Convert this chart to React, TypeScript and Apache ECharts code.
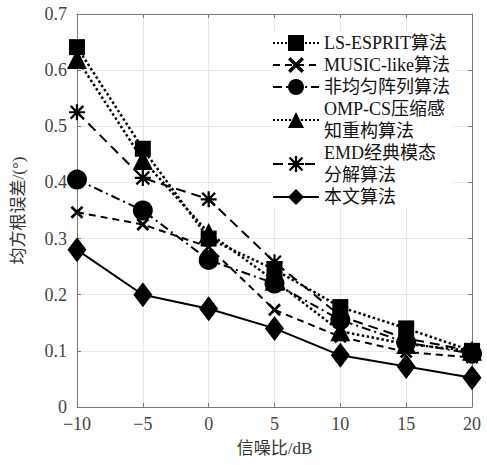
import React, { useEffect, useRef } from "react";
import * as echarts from "echarts";

const snr = [-10, -5, 0, 5, 10, 15, 20];
const seriesNames = [
  "LS-ESPRIT算法",
  "MUSIC-like算法",
  "非均匀阵列算法",
  "OMP-CS压缩感知重构算法",
  "EMD经典模态分解算法",
  "本文算法",
];
const legendLabels = [
  "LS-ESPRIT算法",
  "MUSIC-like算法",
  "非均匀阵列算法",
  "OMP-CS压缩感\n知重构算法",
  "EMD经典模态\n分解算法",
  "本文算法",
];
const lsEsprit = [0.641, 0.46, 0.3, 0.245, 0.178, 0.14, 0.1];
const musicLike = [0.347, 0.325, 0.285, 0.173, 0.125, 0.098, 0.088];
const nonUniform = [0.405, 0.35, 0.262, 0.22, 0.155, 0.115, 0.095];
const ompCs = [0.62, 0.44, 0.31, 0.225, 0.135, 0.112, 0.1];
const emd = [0.525, 0.408, 0.37, 0.258, 0.162, 0.122, 0.1];
const ours = [0.28, 0.2, 0.175, 0.14, 0.092, 0.072, 0.052];
const yTicks = [0, 0.1, 0.2, 0.3, 0.4, 0.5, 0.6, 0.7];

const X_PATH =
  "path://M0,1.5 L1.5,0 L5,3.5 L8.5,0 L10,1.5 L6.5,5 L10,8.5 L8.5,10 L5,6.5 L1.5,10 L0,8.5 L3.5,5 Z";
const STAR_PATH =
  "path://M4.3,0 L5.7,0 L5.7,10 L4.3,10 Z M0,4.3 L10,4.3 L10,5.7 L0,5.7 Z M1.5,0.5 L9.5,8.5 L8.5,9.5 L0.5,1.5 Z M9.5,1.5 L1.5,9.5 L0.5,8.5 L8.5,0.5 Z";

const SERIF = "'Liberation Serif', 'Noto Sans CJK SC', serif";

export default function App() {
  const ref = useRef<HTMLDivElement>(null);
  useEffect(() => {
    if (!ref.current) return;
    const chart = echarts.init(ref.current, undefined, { renderer: "svg" });
    const values = [lsEsprit, musicLike, nonUniform, ompCs, emd, ours];
    const symbols = ["rect", X_PATH, "circle", "triangle", STAR_PATH, "diamond"];
    const symbolSizes: any[] = [16, 13, 20, 20, 16, [19, 25]];
    const lineTypes: any[] = ["dotted", [7, 5], [9, 4, 2, 4], "dotted", [10, 6], "solid"];
    const lineWidths = [2.5, 2, 2, 2.5, 2, 2];
    const series = values.map((v, i) => ({
      name: seriesNames[i],
      type: "line",
      data: snr.map((x, j) => [x, v[j]]),
      symbol: symbols[i],
      symbolSize: symbolSizes[i],
      itemStyle: { color: "#000" },
      lineStyle: { color: "#000", width: lineWidths[i], type: lineTypes[i] },
    }));
    const labelMap: Record<string, string> = {};
    seriesNames.forEach((n, i) => (labelMap[n] = legendLabels[i]));
    chart.setOption({
      animation: false,
      backgroundColor: "#fff",
      grid: { left: 77, right: 15, top: 14, bottom: 58 },
      legend: {
        orient: "vertical",
        left: 272,
        top: 32,
        itemWidth: 46,
        itemHeight: 20,
        itemGap: 0,
        backgroundColor: "#fff",
        padding: [0, 4, 0, 0],
        data: seriesNames,
        formatter: (n: string) => labelMap[n],
        textStyle: { fontFamily: SERIF, fontSize: 18, color: "#111", lineHeight: 22 },
      },
      xAxis: [
        {
          type: "value",
          min: -10,
          max: 20,
          interval: 5,
          name: "信噪比/dB",
          nameLocation: "middle",
          nameGap: 33,
          nameTextStyle: { fontFamily: SERIF, fontSize: 17, color: "#333" },
          axisLine: { onZero: false, lineStyle: { color: "#777" } },
          axisTick: { inside: true, length: 4, lineStyle: { color: "#777" } },
          axisLabel: {
            fontFamily: SERIF,
            fontSize: 18,
            color: "#444",
            margin: 8,
            formatter: (v: number) => String(v).replace("-", "\u2212"),
          },
          splitLine: { show: true, lineStyle: { color: "#e8e8e8" } },
        },
        {
          type: "value",
          position: "top",
          min: -10,
          max: 20,
          interval: 5,
          axisLine: { show: true, onZero: false, lineStyle: { color: "#777" } },
          axisTick: { show: true, inside: true, length: 4, lineStyle: { color: "#777" } },
          axisLabel: { show: false },
          splitLine: { show: false },
        },
      ],
      yAxis: [
        {
          type: "value",
          min: 0,
          max: 0.7,
          interval: 0.1,
          name: "均方根误差/(°)",
          nameLocation: "middle",
          nameGap: 50,
          nameTextStyle: { fontFamily: SERIF, fontSize: 17, color: "#333" },
          axisLine: { show: true, onZero: false, lineStyle: { color: "#777" } },
          axisTick: { show: true, inside: true, length: 4, lineStyle: { color: "#777" } },
          axisLabel: {
            fontFamily: SERIF,
            fontSize: 18,
            color: "#444",
            margin: 10,
            formatter: (v: number) => {
              const t = yTicks.find((k) => Math.abs(k - v) < 1e-9);
              return t === undefined ? "" : String(t);
            },
          },
          splitLine: { show: true, lineStyle: { color: "#e8e8e8" } },
        },
        {
          type: "value",
          position: "right",
          min: 0,
          max: 0.7,
          interval: 0.1,
          axisLine: { show: true, onZero: false, lineStyle: { color: "#777" } },
          axisTick: { show: true, inside: true, length: 4, lineStyle: { color: "#777" } },
          axisLabel: { show: false },
          splitLine: { show: false },
        },
      ],
      series,
    });
    return () => chart.dispose();
  }, []);
  return <div ref={ref} style={{ width: 487, height: 465, position: "absolute", left: 0, top: 0 }} />;
}
